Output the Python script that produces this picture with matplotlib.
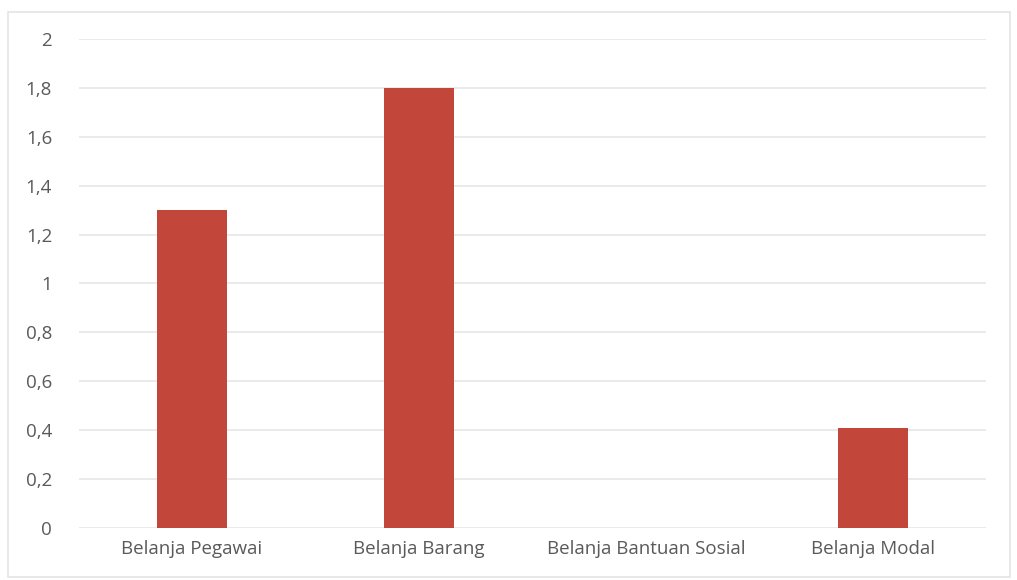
import matplotlib.pyplot as plt
from matplotlib.patches import Rectangle
from matplotlib.ticker import FuncFormatter

categories = ['Belanja Pegawai', 'Belanja Barang', 'Belanja Bantuan Sosial', 'Belanja Modal']
values = [1.3, 1.8, 0, 0.41]
yticks = [0, 0.2, 0.4, 0.6, 0.8, 1, 1.2, 1.4, 1.6, 1.8, 2]

plt.rcParams['font.family'] = ['Open Sans', 'DejaVu Sans']

fig = plt.figure(figsize=(10.17, 5.8), dpi=100)
ax = fig.add_axes([0.0772, 0.0897, 0.8928, 0.8431])

# light frame round the chart area, as in the scan
fig.patches.append(Rectangle((0.008, 0.005), 0.985, 0.975, transform=fig.transFigure,
                             fill=False, edgecolor='#e4e4e4', linewidth=1.2))

x = list(range(len(categories)))
ax.bar(x, values, width=0.31, color='#c2473a', zorder=3)

ax.set_xlim(-0.5, len(categories) - 0.5)
ax.set_ylim(0, 2)
ax.set_yticks(yticks)
ax.yaxis.set_major_formatter(FuncFormatter(lambda v, p: ('%g' % round(v, 1)).replace('.', ',')))
ax.set_xticks(x)
ax.set_xticklabels(categories)

ax.grid(axis='y', color='#e6e6e6', linewidth=1.2, zorder=0)
for s in ax.spines.values():
    s.set_visible(False)
ax.tick_params(axis='both', length=0, labelsize=13.5, colors='#5a5a5a')
ax.tick_params(axis='y', pad=19)
ax.tick_params(axis='x', pad=9)

fig.savefig('out.png', dpi=100)
